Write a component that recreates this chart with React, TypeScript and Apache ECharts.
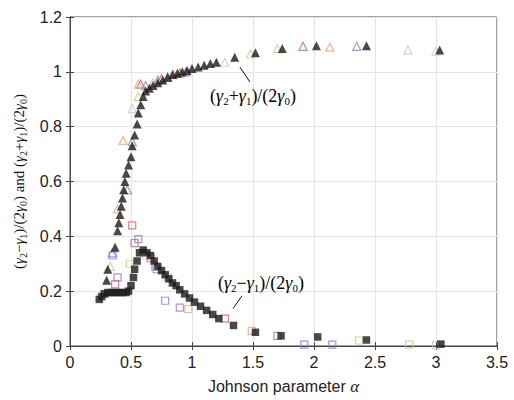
import React, { useEffect, useRef } from "react";
import * as echarts from "echarts";

// (γ2+γ1)/(2γ0), filled black triangles
const sumBlack: number[][] = [
  [0.30, 0.24], [0.31, 0.28], [0.37, 0.36], [0.39, 0.42], [0.40, 0.45], [0.41, 0.48],
  [0.42, 0.51], [0.43, 0.54], [0.44, 0.57], [0.45, 0.60], [0.46, 0.63], [0.48, 0.66],
  [0.50, 0.69], [0.51, 0.73], [0.53, 0.77], [0.55, 0.81], [0.56, 0.85], [0.58, 0.88],
  [0.60, 0.91], [0.62, 0.93], [0.65, 0.94], [0.68, 0.95], [0.72, 0.96], [0.76, 0.97],
  [0.80, 0.98], [0.84, 0.99], [0.88, 0.995], [0.92, 1.0], [0.96, 1.005], [1.0, 1.012],
  [1.05, 1.018], [1.10, 1.024], [1.15, 1.03], [1.20, 1.035], [1.35, 1.053], [1.52, 1.07],
  [1.74, 1.085], [2.02, 1.095], [2.43, 1.095], [3.03, 1.08],
];

// (γ2−γ1)/(2γ0), filled black squares
const diffBlack: number[][] = [
  [0.24, 0.17], [0.26, 0.18], [0.28, 0.19], [0.31, 0.195], [0.34, 0.195], [0.37, 0.195],
  [0.40, 0.195], [0.43, 0.195], [0.46, 0.195], [0.48, 0.20], [0.50, 0.22], [0.52, 0.25],
  [0.53, 0.28], [0.55, 0.31], [0.57, 0.34], [0.60, 0.35], [0.63, 0.34], [0.66, 0.33],
  [0.69, 0.31], [0.72, 0.29], [0.75, 0.275], [0.78, 0.26], [0.81, 0.245], [0.84, 0.23],
  [0.87, 0.22], [0.90, 0.205], [0.94, 0.19], [0.98, 0.175], [1.02, 0.16], [1.07, 0.145],
  [1.12, 0.13], [1.17, 0.115], [1.22, 0.10], [1.34, 0.075], [1.52, 0.05], [1.73, 0.037],
  [2.03, 0.033], [2.43, 0.022], [3.04, 0.007],
];

// Other data sets, hollow markers
const redTri: number[][] = [[0.58, 0.955], [0.75, 0.975], [0.90, 0.995], [1.91, 1.093]];
const redSq: number[][] = [[0.51, 0.44], [0.53, 0.375], [0.37, 0.225], [1.27, 0.10], [0.66, 0.32]];
const blueTri: number[][] = [[0.51, 0.745], [0.345, 0.34], [0.62, 0.95], [0.80, 0.98]];
const blueSq: number[][] = [[0.56, 0.39], [0.35, 0.33], [0.78, 0.165], [1.92, 0.005], [2.15, 0.005], [0.70, 0.29]];
const orangeTri: number[][] = [[0.435, 0.75], [0.39, 0.50], [0.56, 0.955], [0.85, 0.99], [2.13, 1.09]];
const orangeSq: number[][] = [[0.97, 0.135], [1.49, 0.055], [0.29, 0.19]];
const yellowTri: number[][] = [[0.56, 0.91], [0.33, 0.29], [1.48, 1.065], [1.70, 1.085], [0.68, 0.96]];
const yellowSq: number[][] = [[0.49, 0.30], [2.37, 0.02], [2.78, 0.005], [0.80, 0.25]];
const purpleTri: number[][] = [[0.47, 0.57], [0.72, 0.97], [0.95, 1.0], [2.35, 1.093]];
const purpleSq: number[][] = [[0.39, 0.25], [0.90, 0.14], [0.71, 0.28], [1.70, 0.037]];
const greyTri: number[][] = [[0.51, 0.866], [1.27, 1.035], [2.77, 1.08], [3.0, 1.075]];
const greySq: number[][] = [[3.0, 0.003], [0.62, 0.33]];

const hollowSets: { tri: number[][]; sq: number[][]; color: string }[] = [
  { tri: redTri, sq: redSq, color: "#d0606e" },
  { tri: blueTri, sq: blueSq, color: "#7585d6" },
  { tri: orangeTri, sq: orangeSq, color: "#e6a577" },
  { tri: yellowTri, sq: yellowSq, color: "#c9c98a" },
  { tri: purpleTri, sq: purpleSq, color: "#a074c4" },
  { tri: greyTri, sq: greySq, color: "#c4c8d6" },
];

const serif = "Liberation Serif";
const sans = "Liberation Sans";

const makeRich = (big: number, small: number, lh: number) => ({
  m: { fontFamily: serif, fontSize: big, lineHeight: lh, color: "#111" },
  i: { fontFamily: serif, fontSize: big, lineHeight: lh, fontStyle: "italic", color: "#111" },
  s: { fontFamily: serif, fontSize: small, lineHeight: small, verticalAlign: "bottom", color: "#111" },
});

const sumLabel = "{m|(}{i|γ}{s|2}{m|+}{i|γ}{s|1}{m|)/(2}{i|γ}{s|0}{m|)}";
const diffLabel = "{m|(}{i|γ}{s|2}{m|−}{i|γ}{s|1}{m|)/(2}{i|γ}{s|0}{m|)}";

export default function App() {
  const ref = useRef<HTMLDivElement>(null);
  useEffect(() => {
    if (!ref.current) return;
    const chart = echarts.init(ref.current, null, { renderer: "svg" });
    const series: any[] = [];
    hollowSets.forEach((h) => {
      series.push({
        type: "scatter",
        data: h.tri,
        symbol: "triangle",
        symbolSize: 8,
        itemStyle: { color: "rgba(0,0,0,0)", borderColor: h.color, borderWidth: 1.2 },
      });
      series.push({
        type: "scatter",
        data: h.sq,
        symbol: "rect",
        symbolSize: 7,
        itemStyle: { color: "rgba(0,0,0,0)", borderColor: h.color, borderWidth: 1.2 },
      });
    });
    series.push({
      type: "scatter",
      data: diffBlack,
      symbol: "rect",
      symbolSize: 7.5,
      itemStyle: { color: "#1a1a1a" },
    });
    series.push({
      type: "scatter",
      data: sumBlack,
      symbol: "triangle",
      symbolSize: 9,
      itemStyle: { color: "#1a1a1a" },
      markLine: {
        silent: true,
        symbol: "none",
        label: { show: false },
        lineStyle: { color: "#111", width: 1, type: "solid" },
        data: [
          [{ coord: [1.393, 1.017] }, { coord: [1.475, 0.963] }],
          [{ coord: [1.336, 0.1365] }, { coord: [1.41, 0.183] }],
        ],
      },
    });

    chart.setOption({
      animation: false,
      grid: {
        left: 70, right: 17, top: 17, bottom: 49,
        show: true, borderColor: "#444", borderWidth: 1, backgroundColor: "transparent",
      },
      xAxis: [
        {
          type: "value", min: 0, max: 3.5, interval: 0.5,
          axisLine: { show: true, lineStyle: { color: "#444" } },
          axisTick: { show: true, inside: true, length: 4, lineStyle: { color: "#444" } },
          splitLine: { show: true, lineStyle: { color: "#e4e4e4" } },
          axisLabel: { fontFamily: sans, fontSize: 16, color: "#222", margin: 8 },
          name: "{t|Johnson parameter }{a|α}",
          nameLocation: "middle",
          nameGap: 32,
          nameTextStyle: {
            rich: {
              t: { fontFamily: sans, fontSize: 16, color: "#222" },
              a: { fontFamily: serif, fontSize: 17, fontStyle: "italic", color: "#222" },
            },
          },
        },
        {
          type: "value", min: 0, max: 3.5, interval: 0.5, position: "top",
          axisLine: { show: true, lineStyle: { color: "#444" } },
          axisTick: { show: true, inside: true, length: 4, lineStyle: { color: "#444" } },
          splitLine: { show: false },
          axisLabel: { show: false },
        },
      ],
      yAxis: [
        {
          type: "value", min: 0, max: 1.2, interval: 0.2,
          axisLine: { show: true, lineStyle: { color: "#444" } },
          axisTick: { show: true, inside: true, length: 4, lineStyle: { color: "#444" } },
          splitLine: { show: true, lineStyle: { color: "#e4e4e4" } },
          axisLabel: {
            fontFamily: sans, fontSize: 16, color: "#222", margin: 8,
            formatter: (v: number) => String(Math.round(v * 10) / 10),
          },
          name: diffLabel + "{m| and }" + sumLabel,
          nameLocation: "middle",
          nameRotate: 90,
          nameGap: 38,
          nameTextStyle: { rich: makeRich(15, 10, 20) },
        },
        {
          type: "value", min: 0, max: 1.2, interval: 0.2, position: "right",
          axisLine: { show: true, lineStyle: { color: "#444" } },
          axisTick: { show: true, inside: true, length: 4, lineStyle: { color: "#444" } },
          splitLine: { show: false },
          axisLabel: { show: false },
        },
      ],
      series,
    });

    const p1 = chart.convertToPixel({ gridIndex: 0 }, [1.5, 0.913]) as number[];
    const p2 = chart.convertToPixel({ gridIndex: 0 }, [1.565, 0.23]) as number[];
    const annRich = makeRich(18, 11, 22);
    chart.setOption({
      graphic: [
        {
          type: "text", x: p1[0], y: p1[1],
          style: { text: sumLabel, rich: annRich, align: "center", verticalAlign: "middle" },
        },
        {
          type: "text", x: p2[0], y: p2[1],
          style: { text: diffLabel, rich: annRich, align: "center", verticalAlign: "middle" },
        },
      ],
    });
    return () => chart.dispose();
  }, []);
  return <div ref={ref} style={{ width: 514, height: 400, position: "fixed", left: 0, top: 0, background: "#fff" }} />;
}
